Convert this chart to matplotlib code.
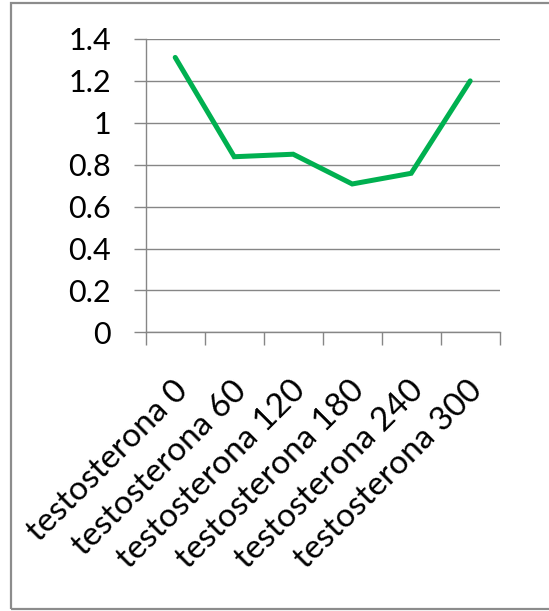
import matplotlib
matplotlib.use("Agg")
import matplotlib.pyplot as plt
from matplotlib.patches import Rectangle
from matplotlib.transforms import ScaledTranslation

categories = ["testosterona 0", "testosterona 60", "testosterona 120",
              "testosterona 180", "testosterona 240", "testosterona 300"]
values = [1.312, 0.838, 0.85, 0.708, 0.759, 1.20]
y_ticks = [0, 0.2, 0.4, 0.6, 0.8, 1.0, 1.2, 1.4]
y_labels = ["0", "0.2", "0.4", "0.6", "0.8", "1", "1.2", "1.4"]

plt.rcParams["font.family"] = ["Lato", "DejaVu Sans"]

fig = plt.figure(figsize=(5.49, 6.11), dpi=100)
ax = fig.add_axes([0.2654, 0.4561, 0.6448, 0.4801])

grid_color = "#868686"
x = list(range(len(categories)))
ax.plot(x, values, color="#00B050", linewidth=3.6, solid_capstyle="round",
        solid_joinstyle="miter", zorder=3)

ax.set_xlim(-0.5, len(categories) - 0.5)
ax.set_ylim(0, 1.4)
ax.set_yticks(y_ticks)
ax.set_yticklabels(y_labels)
ax.yaxis.grid(True, color=grid_color, linewidth=1.0)
ax.set_axisbelow(True)

# category boundaries carry the x tick marks
ax.set_xticks([i - 0.5 for i in range(len(categories) + 1)])
ax.set_xticklabels([])
ax.set_xticks(x, minor=True)
ax.set_xticklabels(categories, minor=True, rotation=45, ha="right",
                   va="top", rotation_mode="anchor", fontsize=24)
ax.tick_params(axis="x", which="minor", length=0, pad=31)
ax.tick_params(axis="x", which="major", length=9, color=grid_color, width=1.0)
ax.tick_params(axis="y", length=9, color=grid_color, width=1.0,
               labelsize=22, pad=16)

shift = ScaledTranslation(-3 / 100, 0, fig.dpi_scale_trans)
for lbl in ax.get_xticklabels(minor=True):
    lbl.set_transform(lbl.get_transform() + shift)

for side in ("top", "right"):
    ax.spines[side].set_visible(False)
for side in ("left", "bottom"):
    ax.spines[side].set_color(grid_color)
    ax.spines[side].set_linewidth(1.0)

# outer chart frame (runs past the right edge)
fig.patches.append(Rectangle((0.020, 0.004), 1.1, 0.991,
                             transform=fig.transFigure, fill=False,
                             edgecolor="#8c8c8c", linewidth=1.6))

fig.savefig("out.png", dpi=100)
